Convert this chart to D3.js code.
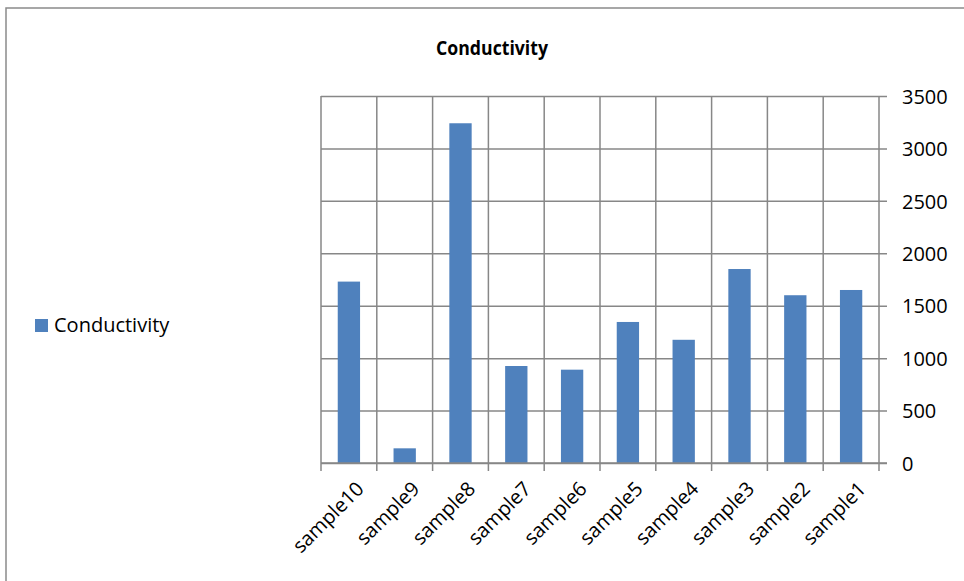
<!DOCTYPE html>
<html>
<head>
<meta charset="utf-8">
<script src="https://cdn.jsdelivr.net/npm/d3@7"></script>
<style>
  html, body { margin: 0; padding: 0; background: #fff; }
  svg { display: block; }
  text { font-family: "Open Sans", "Liberation Sans", sans-serif; fill: #000; }
</style>
</head>
<body>
<script>
// Conductivity per sample
const categories = ["sample10", "sample9", "sample8", "sample7", "sample6",
                    "sample5", "sample4", "sample3", "sample2", "sample1"];
const conductivity = [1730, 140, 3240, 925, 890, 1345, 1175, 1850, 1600, 1650];
const yTicks = [0, 500, 1000, 1500, 2000, 2500, 3000, 3500];
const seriesName = "Conductivity";
const chartTitle = "Conductivity";

const W = 964, H = 581;
const plot = { left: 321, right: 879, top: 96, bottom: 463 };
const barColor = "#4F81BD";
const gridColor = "#878787";

const svg = d3.select("body").append("svg")
  .attr("width", W).attr("height", H);

// chart frame
svg.append("rect")
  .attr("x", 6).attr("y", 8)
  .attr("width", W + 10).attr("height", H + 10)
  .attr("fill", "none").attr("stroke", "#8a8a8a").attr("stroke-width", 1.5);

const x = d3.scaleBand().domain(categories)
  .range([plot.left, plot.right]).paddingInner(0).paddingOuter(0);
const y = d3.scaleLinear().domain([0, 3500]).range([plot.bottom, plot.top]);

// horizontal gridlines with right-axis ticks
const yAxis = d3.axisRight(y).tickValues(yTicks)
  .tickSize(-(plot.right - plot.left)).tickPadding(22).tickFormat(d3.format("d"));
const gy = svg.append("g").attr("transform", `translate(${plot.right},0)`).call(yAxis);
gy.select(".domain").remove();
gy.selectAll(".tick line").attr("stroke", gridColor).attr("stroke-width", 1.5)
  .attr("x1", 8);
gy.selectAll(".tick text").attr("font-size", 20).attr("text-anchor", "start")
  .attr("x", 23).attr("dy", "0.36em");

// vertical gridlines at category boundaries, extended below as ticks
const bounds = categories.map(c => x(c)).concat([x(categories[categories.length - 1]) + x.bandwidth()]);
svg.append("g").selectAll("line").data(bounds).join("line")
  .attr("x1", d => d).attr("x2", d => d)
  .attr("y1", plot.top).attr("y2", plot.bottom + 8)
  .attr("stroke", gridColor).attr("stroke-width", 1.5);

// bars
const barW = x.bandwidth() / 2.5;
svg.append("g").selectAll("rect").data(conductivity).join("rect")
  .attr("x", (d, i) => x(categories[i]) + (x.bandwidth() - barW) / 2)
  .attr("y", d => y(d))
  .attr("width", barW)
  .attr("height", d => y(0) - y(d))
  .attr("fill", barColor);

// baseline
svg.append("line")
  .attr("x1", plot.left).attr("x2", plot.right + 8)
  .attr("y1", y(0)).attr("y2", y(0))
  .attr("stroke", gridColor).attr("stroke-width", 1.5);

// category labels, rotated
const xAxis = d3.axisBottom(x).tickSize(0).tickPadding(0);
const gx = svg.append("g").attr("transform", `translate(0,${plot.bottom})`).call(xAxis);
gx.select(".domain").remove();
gx.selectAll(".tick text")
  .attr("font-size", 20)
  .attr("text-anchor", "end")
  .attr("transform", "translate(11,22) rotate(-45)")
  .attr("x", 0).attr("y", 0).attr("dy", "0.36em");

// title
svg.append("text")
  .attr("x", 492).attr("y", 55)
  .attr("text-anchor", "middle")
  .attr("font-size", 20).attr("font-weight", "bold")
  .attr("textLength", 112).attr("lengthAdjust", "spacingAndGlyphs")
  .text(chartTitle);

// legend
const lg = svg.append("g").attr("transform", "translate(35,319)");
lg.append("rect").attr("width", 13).attr("height", 13).attr("fill", barColor);
lg.append("text").attr("x", 19).attr("y", 13).attr("font-size", 20).text(seriesName);
</script>
</body>
</html>
